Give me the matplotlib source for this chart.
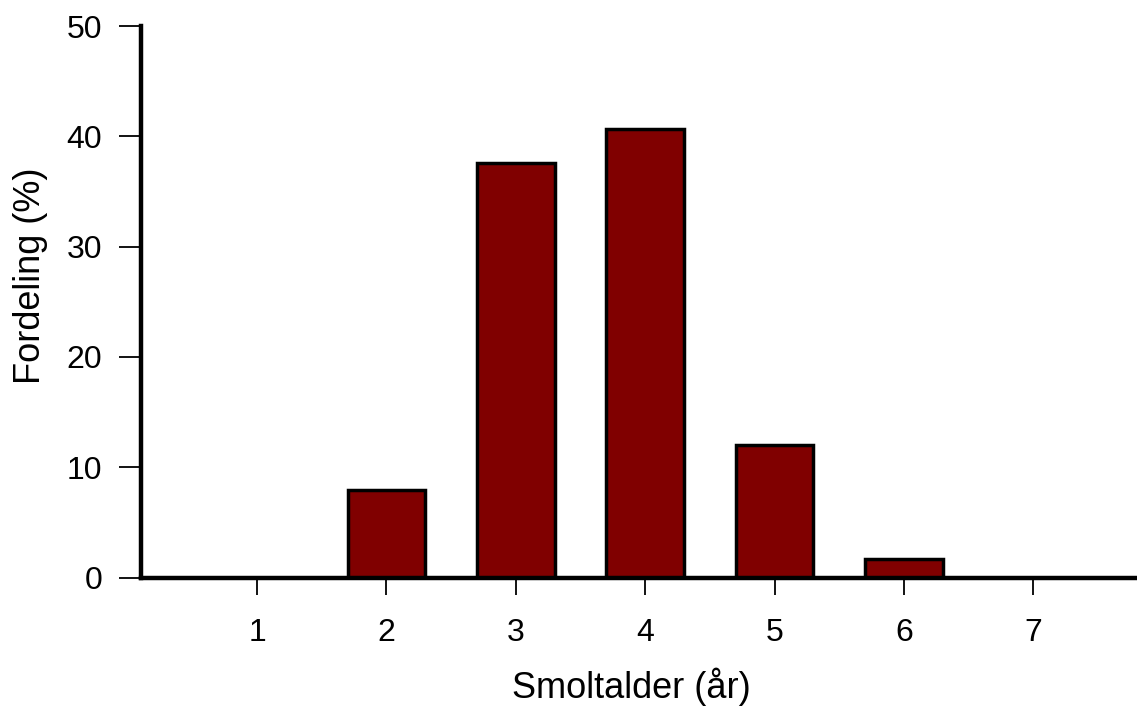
import matplotlib
matplotlib.use("Agg")
import matplotlib.pyplot as plt

ages = [1, 2, 3, 4, 5, 6, 7]
age_labels = ["1", "2", "3", "4", "5", "6", "7"]
share = [0.0, 7.9, 37.6, 40.7, 12.0, 1.7, 0.0]
y_ticks = [0, 10, 20, 30, 40, 50]

plt.rcParams['font.family'] = ['Liberation Sans', 'DejaVu Sans']

fig = plt.figure(figsize=(11.37, 7.06), dpi=100)
ax = fig.add_axes([0.124, 0.182, 0.876, 0.781])

ax.bar(ages, share, width=0.6, color="#800000", edgecolor="black", linewidth=2.5, zorder=2)

ax.set_xlim(0.103, 7.80)
ax.set_ylim(0, 50)
ax.set_xticks(ages)
ax.set_xticklabels(age_labels)
ax.set_yticks(y_ticks)

for s in ["top", "right"]:
    ax.spines[s].set_visible(False)
for s in ["left", "bottom"]:
    ax.spines[s].set_linewidth(3.2)
    ax.spines[s].set_zorder(3)

ax.tick_params(axis="y", direction="out", length=16, width=1.3, labelsize=23, pad=12)
ax.tick_params(axis="x", direction="out", length=12, width=1.3, labelsize=23, pad=17)

ax.set_xlabel("Smoltalder (år)", fontsize=26, va="center")
ax.set_ylabel("Fordeling (%)", fontsize=26, va="center")
ax.xaxis.set_label_coords(0.492, -0.198)
ax.yaxis.set_label_coords(-0.111, 0.547)

fig.savefig("out.png", dpi=100)
